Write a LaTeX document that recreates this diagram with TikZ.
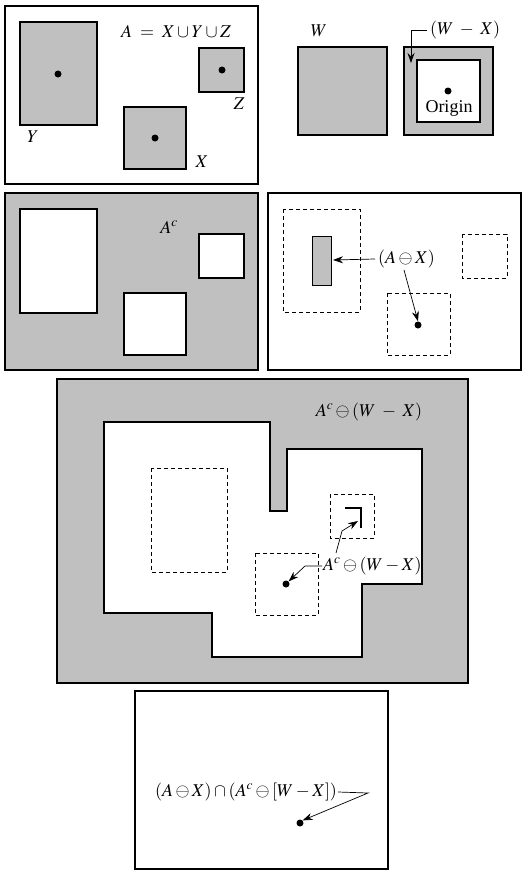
\documentclass[tikz,border=0pt]{standalone}
\usepackage{mathptmx}
\usepackage[no-math]{fontspec}
\setmainfont{Liberation Serif}
\usetikzlibrary{arrows.meta}
\definecolor{shade}{RGB}{192,192,192}
\begin{document}
\begin{tikzpicture}[x=1pt,y=-1pt,
  frame/.style={draw,line width=1.2pt},
  shaded/.style={fill=shade,draw,line width=1.2pt},
  dashbox/.style={draw,dash pattern=on 4pt off 3pt,line width=1pt},
  dot/.style={circle,fill,inner sep=0pt,minimum size=7pt},
  lbl/.style={font=\fontsize{18}{21}\selectfont,inner sep=1pt},
  alb/.style={lbl,inner xsep=3pt},
  arr/.style={-{Stealth[length=10pt,width=7pt]},line width=0.7pt}]
\useasboundingbox (0,0) rectangle (528,875);
% ---------- panel 1 ----------
\draw[frame] (5,6) rectangle (258,184);
\draw[shaded] (20,22) rectangle (97,125);
\draw[shaded] (199,48) rectangle (244,92);
\draw[shaded] (124,107) rectangle (186,169);
\node[dot] (dY) at (58,74) {};
\node[dot] (dZ) at (222,70) {};
\node[dot] (dX) at (155,138) {};
\node[lbl] (tA) at (176,31) {$A\;=\;X\cup Y\cup Z$};
\node[lbl] (tY) at (33,137) {$Y$};
\node[lbl] (tZ) at (239,104) {$Z$};
\node[lbl] (tX) at (202,162) {$X$};
% ---------- panel 2 ----------
\node[lbl] (tW) at (319,31) {$W$};
\draw[shaded] (298,47) rectangle (387,135);
\draw[shaded] (404,47) rectangle (493,135);
\draw[frame,fill=white] (417,60) rectangle (480,122);
\node[dot] (dO) at (448,91) {};
\node[lbl] (tO) at (449,108) {Origin};
\node[alb,anchor=west] (tWX) at (427,30) {$(W\;-\;X)$};
\coordinate (cWX) at (411,63);
\draw[arr] (tWX.west) -- (411,30) -- (cWX);
% ---------- panel 3 ----------
\draw[shaded] (5,193) rectangle (258,370);
\draw[frame,fill=white] (20,209) rectangle (97,313);
\draw[frame,fill=white] (199,234) rectangle (244,278);
\draw[frame,fill=white] (124,293) rectangle (186,355);
\node[lbl] (tAc) at (169,227) {$A^c$};
% ---------- panel 4 ----------
\draw[frame] (268,193) rectangle (521,370);
\draw[dashbox] (283,209) rectangle (360,312);
\draw[dashbox] (462,234) rectangle (507,278);
\draw[dashbox] (387,293) rectangle (450,355);
\draw[shaded,line width=1pt] (312,236) rectangle (331,285);
\coordinate (cR) at (333,260);
\node[dot] (dX2) at (418,325) {};
\node[alb,anchor=west] (tAX) at (375,259) {$(A\ominus X)$};
\draw[arr] (tAX.west) -- (cR);
\draw[arr] (404,270) -- (dX2.north);
% ---------- panel 5 ----------
\draw[shaded] (57,379) rectangle (468,683);
\draw[frame,fill=white] (104,422) -- (270,422) -- (270,511) -- (287,511) -- (287,449)
  -- (422,449) -- (422,584) -- (362,584) -- (362,657) -- (212,657) -- (212,613)
  -- (104,613) -- cycle;
\draw[dashbox] (151,468) rectangle (227,572);
\draw[dashbox] (330,494) rectangle (374,538);
\draw[dashbox] (255,553) rectangle (318,615);
\draw[line width=2.6pt] (345,508) -- (361,508) -- (361,528);
\node[dot] (dX3) at (286,584) {};
\node[lbl] (tB1) at (369,412) {$A^c\ominus(W\;-\;X)$};
\node[lbl,anchor=west] (tB2) at (322,566) {$A^c\ominus(W-X)$};
\coordinate (cL) at (358,521);
\draw[arr] (tB2.west) -- (305,566) -- (dX3.north east);
\draw[arr] (336,553) -- (342,531) -- (cL);
% ---------- panel 6 ----------
\draw[frame] (135,691) rectangle (388,869);
\node[lbl] (tC) at (246,792) {$(A\ominus X)\cap(A^c\ominus[W-X])$};
\node[dot] (dC) at (300,823) {};
\draw[arr] (tC.east) -- (368,793) -- (dC.north east);
\end{tikzpicture}
\end{document}
